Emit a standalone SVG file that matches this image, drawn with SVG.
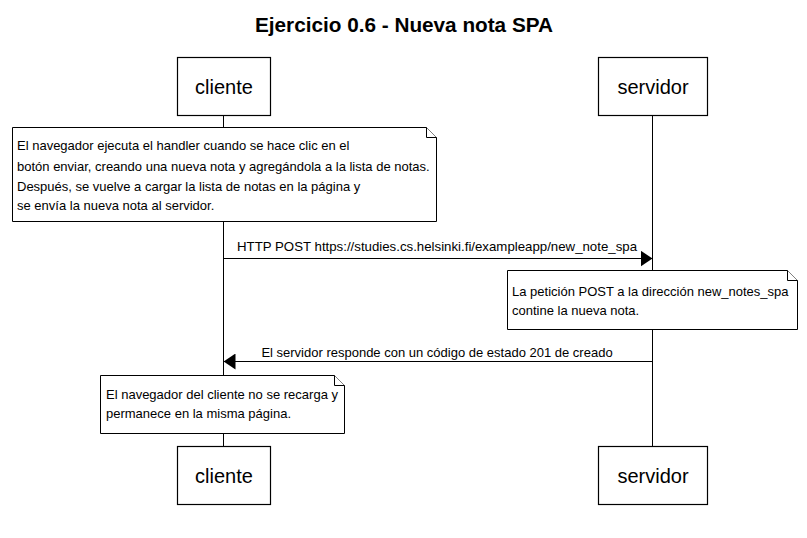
<svg xmlns="http://www.w3.org/2000/svg" width="807" height="538" viewBox="0 0 807 538">
<defs>
<style>
text{font-family:"Liberation Sans",Arial,sans-serif;fill:#000}
.title{font-size:21px;font-weight:bold;text-anchor:middle}
.actor{font-size:20px;text-anchor:middle}
.box{fill:#fff;stroke:#000;stroke-width:1.2}
.note{fill:#fff;stroke:#000;stroke-width:1}
.t{font-size:13px}
.life{stroke:#000;stroke-width:1;fill:none}
.msg{stroke:#000;stroke-width:1;fill:none}
</style>
<marker id="ah" viewBox="0 0 12 16" refX="12" refY="8" markerWidth="12" markerHeight="16" markerUnits="userSpaceOnUse" orient="auto">
<path d="M0,0 L12,8 L0,16 Z" fill="#000"/>
</marker>
</defs>
<rect width="807" height="538" fill="#fff"/>
<text class="title" x="404" y="32" textLength="298" lengthAdjust="spacingAndGlyphs">Ejercicio 0.6 - Nueva nota SPA</text>
<g id="lifelines">
<line class="life" x1="223.5" y1="116" x2="223.5" y2="446"/>
<line class="life" x1="652.5" y1="116" x2="652.5" y2="446"/>
</g>
<g id="cliente-top"><rect class="box" x="177.5" y="57.5" width="93" height="58"/><text class="actor" x="224" y="94">cliente</text></g>
<g id="servidor-top"><rect class="box" x="598.5" y="57.5" width="109" height="58"/><text class="actor" x="653" y="94">servidor</text></g>
<g id="cliente-bottom"><rect class="box" x="177.5" y="446.5" width="93" height="58"/><text class="actor" x="224" y="483">cliente</text></g>
<g id="servidor-bottom"><rect class="box" x="598.5" y="446.5" width="109" height="58"/><text class="actor" x="653" y="483">servidor</text></g>
<g id="note1">
<path class="note" d="M12.5,127.5 H426.5 L436.5,137.5 V221.5 H12.5 Z"/>
<path class="note" d="M426.5,127.5 V137.5 H436.5"/>
<text class="t" x="17" y="150">El navegador ejecuta el handler cuando se hace clic en el</text>
<text class="t" x="17" y="171">botón enviar, creando una nueva nota y agregándola a la lista de notas.</text>
<text class="t" x="17" y="191">Después, se vuelve a cargar la lista de notas en la página y</text>
<text class="t" x="17" y="210">se envía la nueva nota al servidor.</text>
</g>
<g id="note2">
<path class="note" d="M507.5,270.5 H787.5 L797.5,280.5 V329.5 H507.5 Z"/>
<path class="note" d="M787.5,270.5 V280.5 H797.5"/>
<text class="t" x="512" y="296">La petición POST a la dirección new_notes_spa</text>
<text class="t" x="512" y="315">contine la nueva nota.</text>
</g>
<g id="note3">
<path class="note" d="M100.5,375.5 H334.5 L344.5,385.5 V433.5 H100.5 Z"/>
<path class="note" d="M334.5,375.5 V385.5 H344.5"/>
<text class="t" x="106" y="399">El navegador del cliente no se recarga y</text>
<text class="t" x="106" y="418">permanece en la misma página.</text>
</g>
<g id="connectors">
<line class="msg" x1="223.5" y1="258.5" x2="652.5" y2="258.5" marker-end="url(#ah)"/>
<text class="t" x="437" y="251" text-anchor="middle" textLength="400" lengthAdjust="spacingAndGlyphs">HTTP POST https://studies.cs.helsinki.fi/exampleapp/new_note_spa</text>
<line class="msg" x1="652.5" y1="361.5" x2="223.5" y2="361.5" marker-end="url(#ah)"/>
<text class="t" x="437" y="357" text-anchor="middle">El servidor responde con un código de estado 201 de creado</text>
</g>
</svg>
